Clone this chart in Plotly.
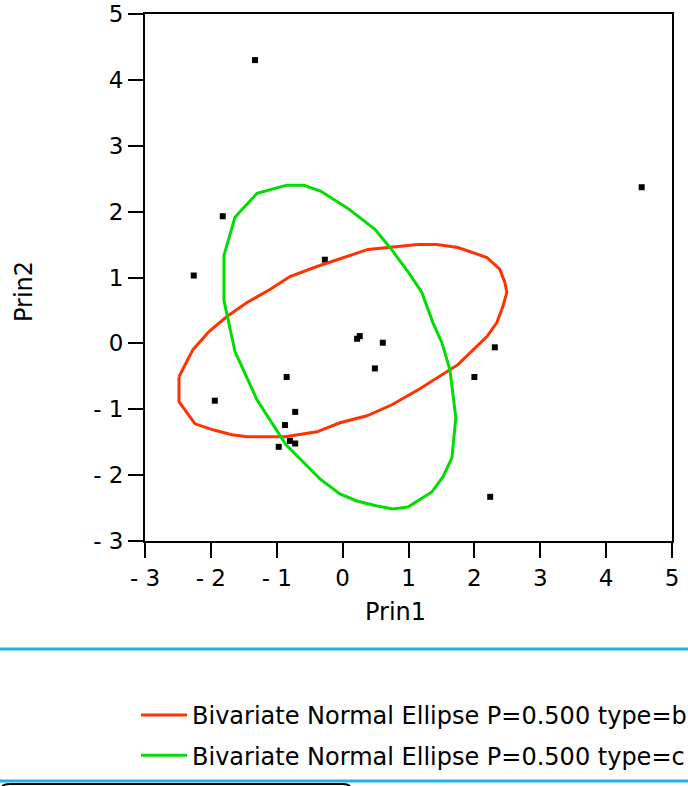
import plotly.graph_objects as go

# ---- data ----
pts_x = [-1.33, -1.82, -2.26, -0.27, 4.54, -1.94, -0.85, -0.72, -0.875, -0.80, -0.72, -0.97,
         0.22, 0.26, 0.61, 0.49, 2.31, 2.00, 2.24]
pts_y = [4.30, 1.93, 1.03, 1.27, 2.37, -0.87, -0.51, -1.04, -1.24, -1.48, -1.52, -1.57,
         0.07, 0.11, 0.01, -0.38, -0.06, -0.51, -2.33]

ell_b_x = [-2.484, -2.272, -2.029, -1.756, -1.452, -1.103, -0.800, -0.390, 0.384, 0.718, 1.143,
           1.431, 1.750, 2.190, 2.387, 2.463, 2.493, 2.432, 2.341, 2.190, 1.750, 1.173, 0.748,
           0.369, -0.041, -0.390, -0.876, -1.452, -1.680, -1.968, -2.241, -2.484, -2.484]
ell_b_y = [-0.506, -0.095, 0.179, 0.407, 0.620, 0.817, 1.015, 1.167, 1.426, 1.456, 1.502,
           1.502, 1.456, 1.304, 1.122, 0.924, 0.772, 0.559, 0.316, 0.103, -0.323, -0.688, -0.932,
           -1.099, -1.205, -1.342, -1.418, -1.418, -1.388, -1.312, -1.221, -0.886, -0.506]

ell_c_x = [-0.860, -0.587, -0.329, 0.080, 0.490, 0.718, 0.991, 1.203, 1.370, 1.507, 1.628,
           1.719, 1.659, 1.522, 1.355, 0.991, 0.763, 0.520, 0.217, -0.041, -0.344, -0.860,
           -1.300, -1.634, -1.801, -1.801, -1.634, -1.300, -0.860]
ell_c_y = [2.399, 2.399, 2.308, 2.049, 1.730, 1.456, 1.091, 0.772, 0.316, 0.011, -0.399,
           -1.129, -1.738, -2.027, -2.255, -2.483, -2.513, -2.468, -2.392, -2.285, -2.057, -1.540,
           -0.856, -0.125, 0.650, 1.335, 1.913, 2.278, 2.399]

x_ticks = [-3, -2, -1, 0, 1, 2, 3, 4, 5]
x_ticktext = ["- 3", "- 2", "- 1", "0", "1", "2", "3", "4", "5"]
y_ticks = [-3, -2, -1, 0, 1, 2, 3, 4, 5]
y_ticktext = ["- 3", "- 2", "- 1", "0", "1", "2", "3", "4", "5"]

names = ["Bivariate Normal Ellipse P=0.500 type=b", "Bivariate Normal Ellipse P=0.500 type=c"]

W, H = 688, 786
L, R, T, B = 145, 672, 14, 541
FONT = "DejaVu Sans"


def px(x):
    return (x - L) / (R - L)


def py(y):
    return (B - y) / (B - T)


fig = go.Figure()
fig.add_trace(go.Scatter(x=pts_x, y=pts_y, mode="markers", showlegend=False,
                         marker=dict(symbol="square", size=6, color="black")))
fig.add_trace(go.Scatter(x=ell_b_x, y=ell_b_y, mode="lines", name=names[0], legendgroup="b",
                         line=dict(color="#ff3300", width=3)))
fig.add_trace(go.Scatter(x=ell_c_x, y=ell_c_y, mode="lines", name=names[1], legendgroup="c",
                         line=dict(color="#00dd00", width=3)))

axis_common = dict(showgrid=False, zeroline=False, showline=True, linecolor="black", linewidth=2,
                   mirror=True, ticks="outside", ticklen=15, tickwidth=2, tickcolor="black",
                   automargin=False,
                   tickfont=dict(family=FONT, size=23, color="black"))

fig.update_layout(
    width=W, height=H,
    margin=dict(l=L, r=W - R, t=T, b=H - B, pad=0, autoexpand=False),
    paper_bgcolor="white", plot_bgcolor="white",
    font=dict(family=FONT, color="black"),
    xaxis=dict(range=[-3, 5], tickvals=x_ticks, ticktext=x_ticktext, **axis_common),
    yaxis=dict(range=[-3, 5], tickvals=y_ticks, ticktext=y_ticktext, **axis_common),
    showlegend=True,
    legend=dict(x=px(136), y=py(693), xanchor="left", yanchor="top",
                font=dict(family=FONT, size=24, color="black"),
                bgcolor="rgba(0,0,0,0)", tracegroupgap=6, itemwidth=46),
    annotations=[
        dict(text="Prin1", x=px(395), y=py(612), xref="paper", yref="paper", showarrow=False,
             font=dict(family=FONT, size=24, color="black"), xanchor="center", yanchor="middle"),
        dict(text="Prin2", x=px(24), y=py(292), xref="paper", yref="paper", showarrow=False,
             textangle=-90, font=dict(family=FONT, size=24, color="black"),
             xanchor="center", yanchor="middle"),
    ],
    shapes=[
        dict(type="line", xref="paper", yref="paper", x0=px(0), x1=px(W), y0=py(649), y1=py(649),
             line=dict(color="#19b6e8", width=3)),
        dict(type="line", xref="paper", yref="paper", x0=px(0), x1=px(W), y0=py(781), y1=py(781),
             line=dict(color="#19b6e8", width=3)),
        dict(type="path", xref="paper", yref="paper",
             path=f"M {px(2)},{py(790)} L {px(2)},{py(788)} Q {px(2)},{py(784)} {px(10)},{py(784)} "
                  f"L {px(343)},{py(784)} Q {px(351)},{py(784)} {px(351)},{py(790)}",
             line=dict(color="black", width=2)),
    ],
)

fig.write_html("out.html", config={"displayModeBar": False})
